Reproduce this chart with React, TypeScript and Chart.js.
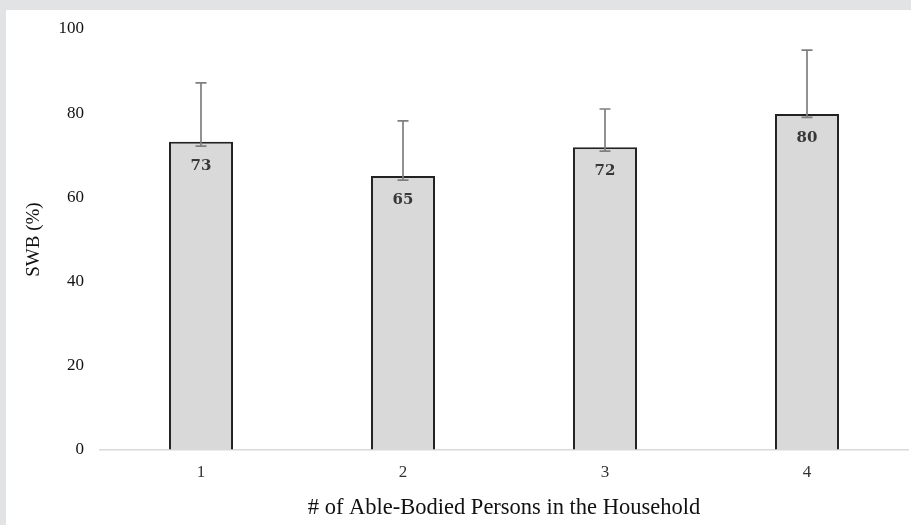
import React, { useEffect, useRef } from "react";
import { Chart, registerables } from "chart.js";

Chart.register(...registerables);

const categories = ["1", "2", "3", "4"];
const swbValues = [73.2, 65.1, 71.9, 79.8];
const errorHigh = [87.2, 78.2, 81.0, 95.0];
const errorLow = [72.2, 64.1, 71.0, 79.0];
const valueLabels = ["73", "65", "72", "80"];
const yMin = 0;
const yMax = 100;
const yStep = 20;
const xTitle = "# of Able-Bodied Persons in the Household";
const yTitle = "SWB (%)";

const SERIF = "'Liberation Serif', 'Times New Roman', serif";

const overlayPlugin = {
  id: "overlay",
  afterDatasetsDraw(chart: any) {
    const { ctx, scales } = chart;
    const y = scales.y;
    const meta = chart.getDatasetMeta(0);
    ctx.save();
    meta.data.forEach((bar: any, i: number) => {
      const x = bar.x;
      const hi = y.getPixelForValue(errorHigh[i]);
      const lo = y.getPixelForValue(errorLow[i]);
      ctx.strokeStyle = "#7f7f7f";
      ctx.lineWidth = 1.7;
      ctx.beginPath();
      ctx.moveTo(x, hi);
      ctx.lineTo(x, lo);
      ctx.moveTo(x - 5.5, hi);
      ctx.lineTo(x + 5.5, hi);
      ctx.moveTo(x - 5.5, lo);
      ctx.lineTo(x + 5.5, lo);
      ctx.stroke();
      ctx.fillStyle = "#383838";
      ctx.font = "bold 15px 'DejaVu Serif', serif";
      ctx.textAlign = "center";
      ctx.textBaseline = "middle";
      ctx.fillText(valueLabels[i], x, bar.y + 24);
    });
    ctx.restore();
  },
};

export default function App() {
  const ref = useRef<HTMLCanvasElement | null>(null);

  useEffect(() => {
    if (!ref.current) return;
    const chart = new Chart(ref.current, {
      type: "bar",
      data: {
        labels: categories,
        datasets: [
          {
            data: swbValues,
            backgroundColor: "#d9d9d9",
            borderColor: "#222222",
            borderWidth: 2,
            categoryPercentage: 1,
            barPercentage: 0.317,
          },
        ],
      },
      options: {
        animation: false,
        responsive: true,
        maintainAspectRatio: false,
        layout: { padding: { left: 0, right: 3, top: 19, bottom: 0 } },
        plugins: {
          legend: { display: false },
          tooltip: { enabled: false },
        },
        scales: {
          x: {
            grid: { display: false, drawTicks: false },
            border: { display: true, color: "#d9d9d9", width: 1.5 },
            ticks: {
              color: "#333",
              padding: 12,
              font: { family: SERIF, size: 17 },
            },
            title: {
              display: true,
              text: xTitle,
              color: "#111",
              font: { family: SERIF, size: 22.5 },
              padding: { top: 0, bottom: 3 },
            },
            afterFit(scale: any) {
              scale.height = 75;
            },
          },
          y: {
            min: yMin,
            max: yMax,
            grid: {
              display: true,
              drawOnChartArea: false,
              drawTicks: true,
              tickLength: 16,
              color: "rgba(0,0,0,0)",
            },
            border: { display: false },
            ticks: {
              stepSize: yStep,
              color: "#111",
              padding: 0,
              font: { family: SERIF, size: 17 },
            },
            title: {
              display: true,
              text: yTitle,
              color: "#111",
              font: { family: SERIF, size: 19 },
              padding: { top: 17, bottom: 0 },
            },
            afterFit(scale: any) {
              scale.width = 94;
            },
          },
        },
      },
      plugins: [overlayPlugin],
    });
    return () => chart.destroy();
  }, []);

  return (
    <div
      style={{
        position: "absolute",
        left: 0,
        top: 0,
        width: 911,
        height: 525,
        background: "#e2e3e5",
      }}
    >
      <div
        style={{
          position: "absolute",
          left: 6,
          top: 10,
          width: 905,
          height: 515,
          background: "#ffffff",
        }}
      >
        <canvas ref={ref} />
      </div>
    </div>
  );
}
